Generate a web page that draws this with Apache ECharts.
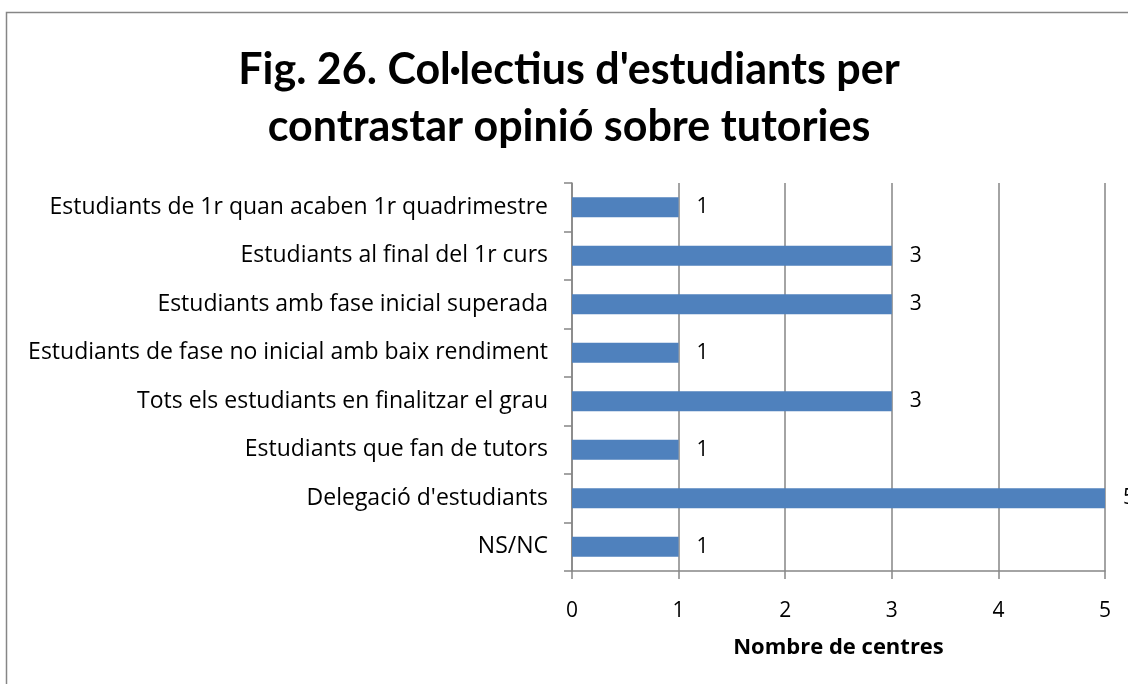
<!DOCTYPE html>
<html>
<head>
<meta charset="utf-8">
<script src="https://cdn.jsdelivr.net/npm/echarts@6/dist/echarts.min.js"></script>
<style>
  html, body { margin: 0; padding: 0; background: #fff; }
  #chart { width: 1128px; height: 684px; }
</style>
</head>
<body>
<div id="chart"></div>
<script>
// categories top to bottom, as in the picture
const categories = [
  'Estudiants de 1r quan acaben 1r quadrimestre',
  'Estudiants al final del 1r curs',
  'Estudiants amb fase inicial superada',
  'Estudiants de fase no inicial amb baix rendiment',
  'Tots els estudiants en finalitzar el grau',
  'Estudiants que fan de tutors',
  "Delegació d'estudiants",
  'NS/NC'
]
const centres = [1, 3, 3, 1, 3, 1, 5, 1]
const xTicks = [0, 1, 2, 3, 4, 5]

const font = '"Open Sans", sans-serif'
const titleFont = 'Lato, sans-serif'
const grey = '#868686'

const chart = echarts.init(document.getElementById('chart'))
chart.setOption({
  animation: false,
  backgroundColor: '#fff',
  graphic: [{
    type: 'rect',
    shape: { x: 6.5, y: 12.5, width: 1200, height: 800 },
    style: { fill: 'none', stroke: grey, lineWidth: 1.5 },
    silent: true
  }],
  title: {
    text: "Fig. 26. Col·lectius d'estudiants per\ncontrastar opinió sobre tutories",
    left: 564,
    textAlign: 'center',
    top: 37,
    textStyle: {
      fontFamily: titleFont,
      fontSize: 43,
      fontWeight: 'bold',
      color: '#000',
      lineHeight: 57
    }
  },
  grid: { left: 572, right: 23, top: 183, bottom: 113 },
  xAxis: {
    type: 'value',
    min: xTicks[0],
    max: xTicks[xTicks.length - 1],
    interval: 1,
    name: 'Nombre de centres',
    nameLocation: 'middle',
    nameGap: 66,
    nameTextStyle: { fontFamily: font, fontSize: 22, fontWeight: 'bold', color: '#000' },
    axisLine: { show: true, lineStyle: { color: grey, width: 1.5 } },
    axisTick: { show: true, length: 8, lineStyle: { color: grey, width: 1.5 } },
    axisLabel: { fontFamily: font, fontSize: 21, color: '#000', margin: 30 },
    splitLine: { show: true, lineStyle: { color: grey, width: 1.5 } }
  },
  yAxis: {
    type: 'category',
    inverse: true,
    data: categories,
    axisLine: { show: true, lineStyle: { color: grey, width: 1.5 } },
    axisTick: { show: true, length: 8, alignWithLabel: false, lineStyle: { color: grey, width: 1.5 } },
    axisLabel: { fontFamily: font, fontSize: 23, color: '#000', margin: 24 }
  },
  series: [{
    type: 'bar',
    data: centres,
    barWidth: 20,
    itemStyle: { color: '#4F81BD' },
    label: {
      show: true,
      position: 'right',
      distance: 18,
      fontFamily: font,
      fontSize: 21,
      color: '#000'
    }
  }]
})
</script>
</body>
</html>
